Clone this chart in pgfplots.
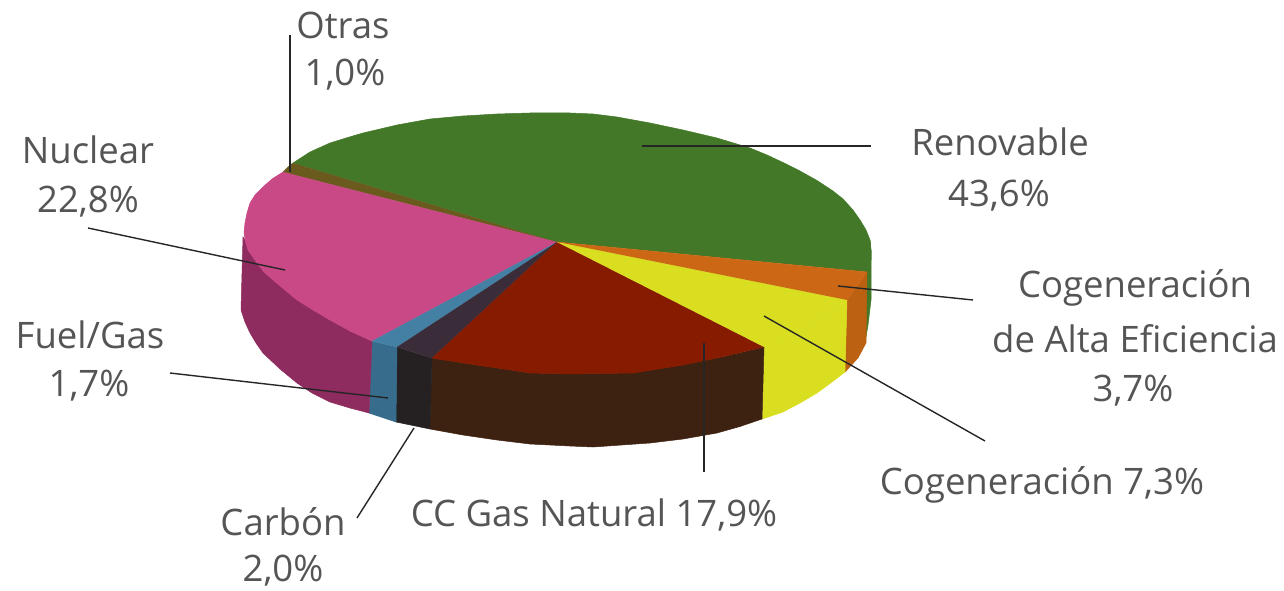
\documentclass[border=0pt]{standalone}
\usepackage{pgfplots}
\usepackage{fontspec}
\setmainfont{Open Sans}
\pgfplotsset{compat=1.18}
\definecolor{gT}{HTML}{427828}
\definecolor{oT}{HTML}{CC6815}
\definecolor{oW}{HTML}{BC6111}
\definecolor{yT}{HTML}{D9DF20}
\definecolor{rT}{HTML}{871B00}
\definecolor{rW}{HTML}{3E2211}
\definecolor{dT}{HTML}{3B2C3A}
\definecolor{dW}{HTML}{252122}
\definecolor{bT}{HTML}{4480A4}
\definecolor{bW}{HTML}{376C8C}
\definecolor{mT}{HTML}{C94886}
\definecolor{mW}{HTML}{8E2B5F}
\definecolor{ot}{HTML}{6B5A1E}
\definecolor{tx}{HTML}{555555}
\tikzset{lab/.style={font=\fontsize{36.5}{40}\selectfont, text=tx, anchor=center, inner sep=0pt}}
\begin{document}
\begin{tikzpicture}
\begin{axis}[
  name=ax,
  scale only axis, width=1284pt, height=591pt,
  xmin=0, xmax=1284, ymin=0, ymax=591, y dir=reverse,
  axis lines=none, clip=false,
  every axis plot/.append style={line width=0.5pt},
  ]
% walls
\addplot[fill=gT,draw=gT] coordinates {(870,240)(871,250)(871,300)(868,325)(865,343)(865,272)};
\addplot[fill=oW,draw=oW] coordinates {(867,272)(866,343)(858,358)(845,372)(847,300)};
\addplot[fill=yT,draw=yT] coordinates {(847,300)(845,372)(832,382)(817,393)(800,403)(783,412)(762,419)(764,347)(810,325)};
\addplot[fill=rW,draw=rW] coordinates {(764,347)(762,419)(740,426.5)(717,433)(683,439)(650,443)(593,447)(570,446)(530,444)(497,440)(463,435)(430,429)(432,358)(463,363)(497,368)(530,373)(570,374)(633,373)(683,365)(717,358)};
\addplot[fill=dW,draw=dW] coordinates {(432,358)(430,429)(396,422)(397,347)};
\addplot[fill=bW,draw=bW] coordinates {(397,347)(396,422)(369,413)(372,341)};
\addplot[fill=mW,draw=mW] coordinates {(372,341)(369,413)(350,408)(330,402)(312,393)(297,383)(280,369)(263,353)(256,343)(250,333)(245,322)(241,310)(243,237)(245,240)(248,250)(257,263)(264,272)(273,280)(285,290)(297,300)(313,310)(330,320)(350,331)};
% top
\addplot[fill=gT,draw=gT] coordinates {(557,242)(293,163)(310,152)(330,143)(346,138)(363,133)(380,129)(397,125)(430,119)(463,116)(497,114)(530,113)(570,113)(593,114)(617,117)(650,123)(683,130)(717,138)(750,148)(767,155)(783,162.5)(800,171)(817,180.5)(833,191)(843,199)(853,210)(860,220)(866,230)(870,240)(871,250)(871,260)(867,272)};
\addplot[fill=ot,draw=ot] coordinates {(557,242)(283,172)(288,167)(293,163)};
\addplot[fill=mT,draw=mT] coordinates {(557,242)(372,341)(350,331)(330,320)(313,310)(297,300)(285,290)(273,280)(264,272)(257,263)(248,250)(245,240)(244,232)(245,223)(247,213)(250,203)(255,195)(263,187)(272,179)(283,172)};
\addplot[fill=bT,draw=bT] coordinates {(557,242)(397,347)(372,341)};
\addplot[fill=dT,draw=dT] coordinates {(557,242)(432,358)(397,347)};
\addplot[fill=rT,draw=rT] coordinates {(557,242)(764,347)(717,358)(683,365)(633,373)(570,374)(530,373)(497,368)(463,363)(432,358)};
\addplot[fill=yT,draw=yT] coordinates {(557,242)(847,300)(810,325)(764,347)};
\addplot[fill=oT,draw=oT] coordinates {(557,242)(867,272)(847,300)};
% leader lines
\addplot[black!85,line width=1.4pt] coordinates {(290,35)(290,172)};
\addplot[black!85,line width=1.4pt] coordinates {(88,228)(285,270)};
\addplot[black!85,line width=1.4pt] coordinates {(642,146)(871,146)};
\addplot[black!85,line width=1.4pt] coordinates {(838,286)(973,300)};
\addplot[black!85,line width=1.4pt] coordinates {(764,316)(985,441)};
\addplot[black!85,line width=1.4pt] coordinates {(704,343)(704,472)};
\addplot[black!85,line width=1.4pt] coordinates {(414,428)(357,518)};
\addplot[black!85,line width=1.4pt] coordinates {(170,373)(388,398)};
% labels
\node[lab] at (axis cs:343,25) {Otras};
\node[lab] at (axis cs:345,75) {1,0\%};
\node[lab] at (axis cs:88,150) {Nuclear};
\node[lab] at (axis cs:88,202) {22,8\%};
\node[lab] at (axis cs:1000,142) {Renovable};
\node[lab] at (axis cs:999,196) {43,6\%};
\node[lab] at (axis cs:1135,288) {Cogeneración};
\node[lab] at (axis cs:1135,339) {de Alta Eficiencia};
\node[lab] at (axis cs:1133,391) {3,7\%};
\node[lab] at (axis cs:1042,485) {Cogeneración 7,3\%};
\node[lab] at (axis cs:594,515) {CC Gas Natural 17,9\%};
\node[lab] at (axis cs:283,522) {Carbón};
\node[lab] at (axis cs:283,571) {2,0\%};
\node[lab] at (axis cs:90,335) {Fuel/Gas};
\node[lab] at (axis cs:89,386) {1,7\%};
\end{axis}
\pgfresetboundingbox
\path[use as bounding box] (ax.south west) rectangle (ax.north east);
\end{tikzpicture}
\end{document}
